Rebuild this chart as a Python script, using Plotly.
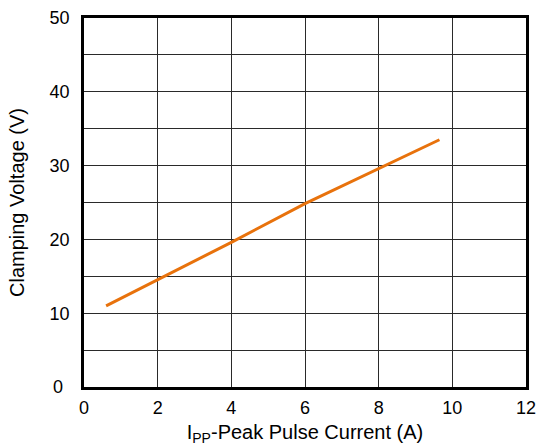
import plotly.graph_objects as go

current_a = [0.6, 2.0, 4.0, 6.0, 8.0, 9.65]
clamp_v = [11.0, 14.55, 19.6, 24.85, 29.6, 33.5]

x_ticks = [0, 2, 4, 6, 8, 10, 12]
y_tickvals = [0, 10, 20, 30, 40, 50]
y_ticktext = ["0\u00a0\u200a", "10", "20", "30", "40", "50"]

fig = go.Figure()
fig.add_trace(go.Scatter(x=current_a, y=clamp_v, mode="lines",
                         line=dict(color="#E8720C", width=3), showlegend=False,
                         hoverinfo="skip"))

font = "Arial, Liberation Sans, sans-serif"
grid = "#2a2a2a"
fig.update_layout(
    width=539, height=447,
    margin=dict(l=84, r=13, t=18, b=60),
    paper_bgcolor="white", plot_bgcolor="white",
    font=dict(family=font, color="black"),
    xaxis=dict(range=[0, 12], tickvals=x_ticks, showgrid=True, gridcolor=grid,
               gridwidth=1.3, showline=True, linecolor="black", linewidth=2.8,
               mirror=True, ticks="", zeroline=False, tickfont=dict(size=18),
               ticklabelstandoff=2, automargin=False,
               title=dict(text="I<sub>PP</sub>-Peak Pulse Current (A)",
                          font=dict(size=20), standoff=9)),
    yaxis=dict(range=[0, 50], tickvals=y_tickvals, ticktext=y_ticktext,
               showgrid=True, gridcolor=grid, gridwidth=1.3, showline=True,
               linecolor="black", linewidth=2.8, mirror=True, ticks="",
               minor=dict(dtick=5, showgrid=True, gridcolor=grid, gridwidth=1.3, ticks=""),
               zeroline=False, tickfont=dict(size=18), ticklabelstandoff=8,
               automargin=False,
               title=dict(text="Clamping Voltage (V)", font=dict(size=20), standoff=20)),
)
fig.write_html("out.html", config={"displayModeBar": False},
               post_script="document.body.style.margin='0';document.body.style.overflow='hidden';")
